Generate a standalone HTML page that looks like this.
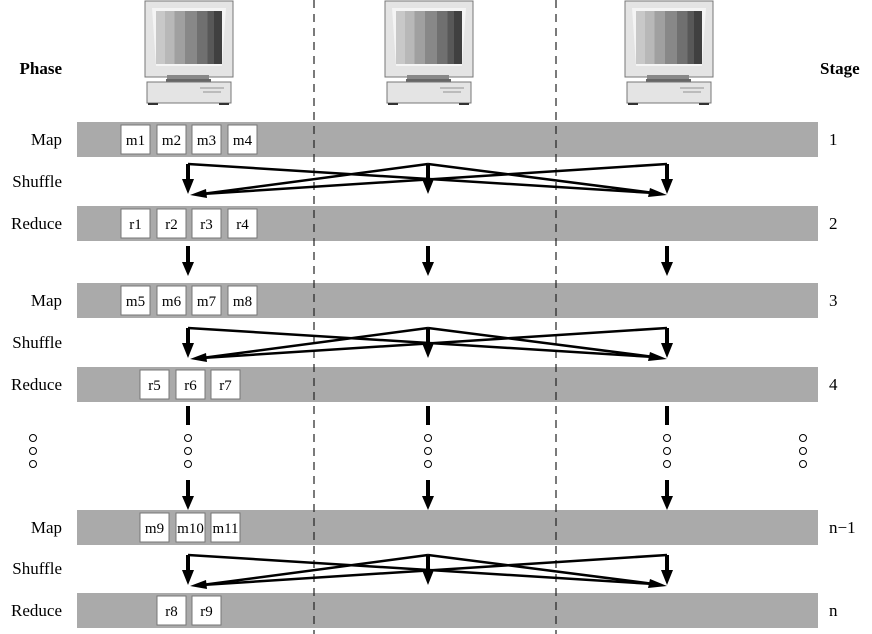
<!DOCTYPE html>
<html><head><style>body{margin:0;background:#fff}svg{display:block}</style></head>
<body>
<svg width="872" height="634" viewBox="0 0 872 634" xmlns="http://www.w3.org/2000/svg" font-family="Liberation Serif, serif">
<defs>
<linearGradient id="scr" x1="0" x2="1">
<stop offset="0" stop-color="#c8c8c8"/><stop offset="0.14" stop-color="#c8c8c8"/>
<stop offset="0.14" stop-color="#b8b8b8"/><stop offset="0.28" stop-color="#b8b8b8"/>
<stop offset="0.28" stop-color="#a0a0a0"/><stop offset="0.44" stop-color="#a0a0a0"/>
<stop offset="0.44" stop-color="#888"/><stop offset="0.62" stop-color="#888"/>
<stop offset="0.62" stop-color="#707070"/><stop offset="0.78" stop-color="#707070"/>
<stop offset="0.78" stop-color="#585858"/><stop offset="0.88" stop-color="#585858"/>
<stop offset="0.88" stop-color="#404040"/><stop offset="1" stop-color="#404040"/>
</linearGradient>
<g id="pc">
<rect x="0" y="1" width="88" height="76" fill="#e4e4e4" stroke="#777"/>
<polygon points="7,8 81,8 77,66 11,66" fill="#f4f4f4"/>
<rect x="11" y="11" width="66" height="53" fill="url(#scr)"/>
<rect x="22" y="75" width="42" height="4" fill="#888"/>
<rect x="21" y="79" width="45" height="3" fill="#666"/>
<rect x="2" y="82" width="84" height="21" fill="#e4e4e4" stroke="#777"/>
<rect x="55" y="87" width="24" height="2" fill="#bbb"/><rect x="58" y="91" width="18" height="2" fill="#bbb"/>
<rect x="3" y="103" width="10" height="2" fill="#333"/><rect x="74" y="103" width="10" height="2" fill="#333"/>
</g>
<g id="down"><line x1="0" y1="0" x2="0" y2="18" stroke="#000" stroke-width="4"/><polygon points="-6,16 6,16 0,30" fill="#000"/></g>
<g id="shuf" stroke="#000" stroke-width="2.5" fill="none">
<line x1="188" y1="0" x2="188" y2="16" stroke-width="4"/><polygon points="182,15 194,15 188,30" fill="#000" stroke="none"/>
<line x1="428" y1="0" x2="428" y2="16" stroke-width="4"/><polygon points="422,15 434,15 428,30" fill="#000" stroke="none"/>
<line x1="667" y1="0" x2="667" y2="16" stroke-width="4"/><polygon points="661,15 673,15 667,30" fill="#000" stroke="none"/>
<polyline points="188,0 654,29"/><polygon points="667,31 650,24 648,33" fill="#000" stroke="none"/>
<polyline points="667,0 202,30"/><polygon points="190,31 206,25 207,34" fill="#000" stroke="none"/>
<line x1="428" y1="0" x2="202" y2="30"/>
<line x1="428" y1="0" x2="654" y2="29"/>
</g>
</defs>
<use href="#pc" x="145" y="0"/><use href="#pc" x="385" y="0"/><use href="#pc" x="625" y="0"/>
<g fill="#aaa">
<rect x="77" y="122" width="741" height="35"/>
<rect x="77" y="206" width="741" height="35"/>
<rect x="77" y="283" width="741" height="35"/>
<rect x="77" y="367" width="741" height="35"/>
<rect x="77" y="510" width="741" height="35"/>
<rect x="77" y="593" width="741" height="35"/>
</g>
<g stroke="#222" stroke-dasharray="8,6" stroke-width="1.2">
<line x1="314" y1="0" x2="314" y2="634"/><line x1="556" y1="0" x2="556" y2="634"/>
</g>
<g font-size="17" text-anchor="end">
<text x="62" y="74" font-weight="bold">Phase</text>
<text x="62" y="145">Map</text><text x="62" y="187">Shuffle</text><text x="62" y="229">Reduce</text>
<text x="62" y="306">Map</text><text x="62" y="348">Shuffle</text><text x="62" y="390">Reduce</text>
<text x="62" y="533">Map</text><text x="62" y="574">Shuffle</text><text x="62" y="616">Reduce</text>
</g>
<g font-size="17">
<text x="820" y="74" font-weight="bold">Stage</text>
<text x="829" y="145">1</text><text x="829" y="229">2</text><text x="829" y="306">3</text><text x="829" y="390">4</text>
<text x="829" y="533">n−1</text><text x="829" y="616">n</text>
</g>
<g font-size="15" text-anchor="middle">
<g fill="#fff" stroke="#777">
<rect x="121" y="125" width="29" height="29"/><rect x="157" y="125" width="29" height="29"/><rect x="192" y="125" width="29" height="29"/><rect x="228" y="125" width="29" height="29"/>
<rect x="121" y="209" width="29" height="29"/><rect x="157" y="209" width="29" height="29"/><rect x="192" y="209" width="29" height="29"/><rect x="228" y="209" width="29" height="29"/>
<rect x="121" y="286" width="29" height="29"/><rect x="157" y="286" width="29" height="29"/><rect x="192" y="286" width="29" height="29"/><rect x="228" y="286" width="29" height="29"/>
<rect x="140" y="370" width="29" height="29"/><rect x="176" y="370" width="29" height="29"/><rect x="211" y="370" width="29" height="29"/>
<rect x="140" y="513" width="29" height="29"/><rect x="176" y="513" width="29" height="29"/><rect x="211" y="513" width="29" height="29"/>
<rect x="157" y="596" width="29" height="29"/><rect x="192" y="596" width="29" height="29"/>
</g>
<text x="135.5" y="145">m1</text><text x="171.5" y="145">m2</text><text x="206.5" y="145">m3</text><text x="242.5" y="145">m4</text>
<text x="135.5" y="229">r1</text><text x="171.5" y="229">r2</text><text x="206.5" y="229">r3</text><text x="242.5" y="229">r4</text>
<text x="135.5" y="306">m5</text><text x="171.5" y="306">m6</text><text x="206.5" y="306">m7</text><text x="242.5" y="306">m8</text>
<text x="154.5" y="390">r5</text><text x="190.5" y="390">r6</text><text x="225.5" y="390">r7</text>
<text x="154.5" y="533">m9</text><text x="190.5" y="533">m10</text><text x="225.5" y="533">m11</text>
<text x="171.5" y="616">r8</text><text x="206.5" y="616">r9</text>
</g>
<use href="#shuf" x="0" y="164"/>
<use href="#shuf" x="0" y="328"/>
<use href="#shuf" x="0" y="555"/>
<use href="#down" x="188" y="246"/><use href="#down" x="428" y="246"/><use href="#down" x="667" y="246"/>
<use href="#down" x="188" y="480"/><use href="#down" x="428" y="480"/><use href="#down" x="667" y="480"/>
<g stroke="#000" stroke-width="4">
<line x1="188" y1="406" x2="188" y2="425"/><line x1="428" y1="406" x2="428" y2="425"/><line x1="667" y1="406" x2="667" y2="425"/>
</g>
<g fill="#fff" stroke="#000" stroke-width="1">
<circle cx="33" cy="438" r="3.5"/><circle cx="33" cy="451" r="3.5"/><circle cx="33" cy="464" r="3.5"/>
<circle cx="188" cy="438" r="3.5"/><circle cx="188" cy="451" r="3.5"/><circle cx="188" cy="464" r="3.5"/>
<circle cx="428" cy="438" r="3.5"/><circle cx="428" cy="451" r="3.5"/><circle cx="428" cy="464" r="3.5"/>
<circle cx="667" cy="438" r="3.5"/><circle cx="667" cy="451" r="3.5"/><circle cx="667" cy="464" r="3.5"/>
<circle cx="803" cy="438" r="3.5"/><circle cx="803" cy="451" r="3.5"/><circle cx="803" cy="464" r="3.5"/>
</g>
</svg>
</body></html>
